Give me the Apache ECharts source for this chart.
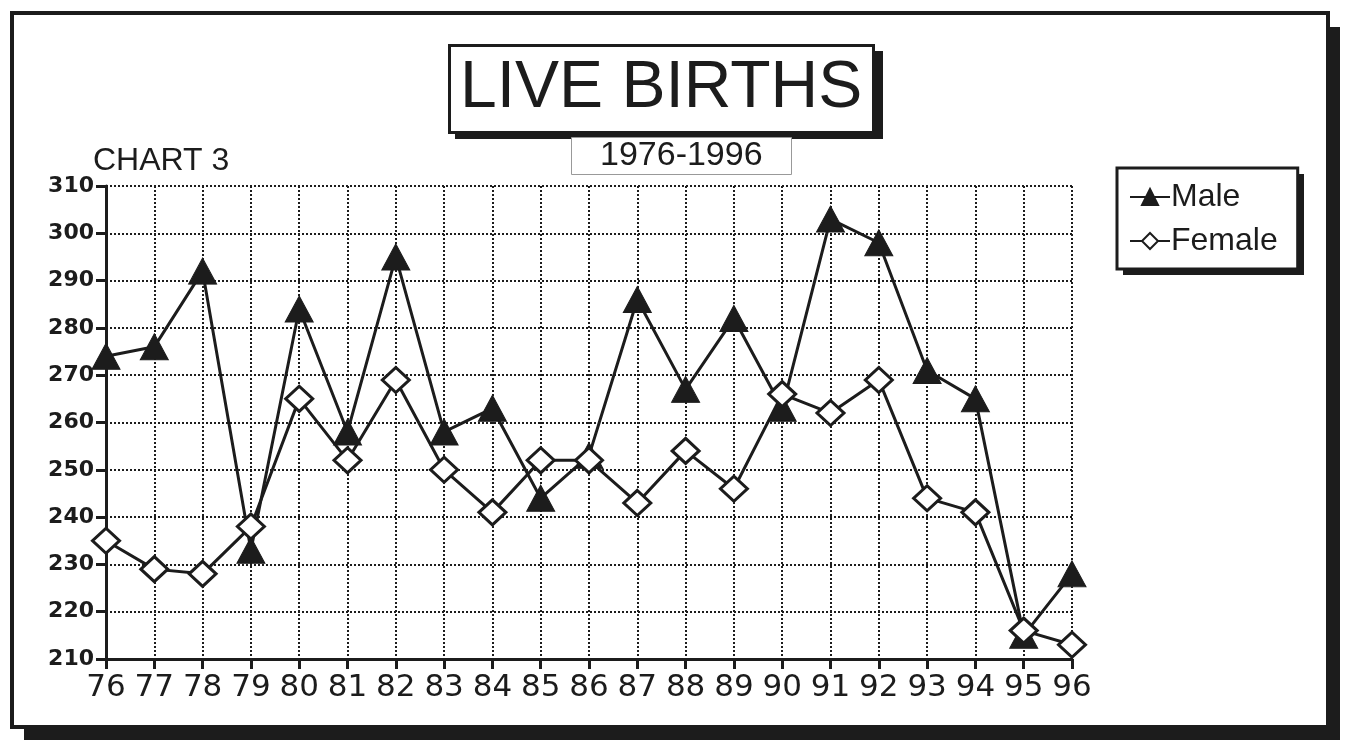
<!DOCTYPE html>
<html>
<head>
<meta charset="utf-8">
<title>Live Births</title>
<script src="https://cdn.jsdelivr.net/npm/echarts@6/dist/echarts.min.js"></script>
<style>
  html, body { margin: 0; padding: 0; background: #fff; }
  #chart { width: 1345px; height: 742px; }
</style>
</head>
<body>
<div id="chart"></div>
<script>
// years 1976-1996, shown as two digits on the x axis
var years = ["76", "77", "78", "79", "80", "81", "82", "83", "84", "85", "86",
  "87", "88", "89", "90", "91", "92", "93", "94", "95", "96"];
// births
var male = [274, 276, 292, 233, 284, 258, 295, 258, 263, 244, 253,
  286, 267, 282, 263, 303, 298, 271, 265, 215, 228];
var female = [235, 229, 228, 238, 265, 252, 269, 250, 241, 252, 252,
  243, 254, 246, 266, 262, 269, 244, 241, 216, 213];

var ink = "#1c1c1c";
var chart = echarts.init(document.getElementById("chart"));

var option = {
  backgroundColor: "#fff",
  animation: false,
  // frame round the whole chart and the hard shadows of the boxes
  graphic: [
    {
      type: "rect", z: -20,
      shape: { x: 24, y: 27, width: 1316, height: 713 },
      style: { fill: ink }
    },
    {
      type: "rect", z: -19,
      shape: { x: 12, y: 13, width: 1316, height: 714 },
      style: { fill: "#fff", stroke: ink, lineWidth: 4 }
    },
    // title shadow
    {
      type: "rect", z: -18,
      shape: { x: 455, y: 51, width: 428, height: 88 },
      style: { fill: ink }
    },
    // legend shadow
    {
      type: "rect", z: -18,
      shape: { x: 1123, y: 174, width: 181, height: 101 },
      style: { fill: ink }
    }
  ],
  title: [
    {
      text: "LIVE BIRTHS",
      left: 449, top: 45,
      padding: [8, 11],
      borderColor: ink, borderWidth: 3,
      backgroundColor: "#fff",
      textStyle: { fontFamily: "Liberation Sans", fontWeight: "normal",
        fontSize: 66, lineHeight: 72, color: ink }
    },
    {
      text: "1976-1996",
      left: 571, top: 137,
      padding: [2, 29],
      borderColor: "#999", borderWidth: 1,
      backgroundColor: "#fff",
      textStyle: { fontFamily: "Liberation Sans", fontWeight: "normal",
        fontSize: 34, lineHeight: 34, color: ink }
    },
    {
      text: "CHART 3",
      left: 88, top: 140,
      textStyle: { fontFamily: "Liberation Sans", fontWeight: "normal",
        fontSize: 32, color: ink }
    }
  ],
  legend: {
    orient: "vertical",
    left: 1117, top: 168,
    padding: [13, 20, 12, 12],
    itemWidth: 40, itemHeight: 20, itemGap: 12,
    borderColor: ink, borderWidth: 3,
    backgroundColor: "#fff",
    textStyle: { fontFamily: "Liberation Sans", fontSize: 32, color: ink, padding: [0, 0, 0, -4] },
    data: ["Male", "Female"]
  },
  grid: { left: 106, right: 273, top: 186, bottom: 83, containLabel: false },
  xAxis: {
    type: "category",
    data: years,
    boundaryGap: false,
    axisLine: { lineStyle: { color: ink, width: 3 } },
    axisTick: { length: 10, interval: 0, lineStyle: { color: ink, width: 3 } },
    axisLabel: { interval: 0, fontFamily: "DejaVu Sans", fontSize: 31, color: ink, margin: 13 },
    splitLine: { show: true, interval: 0, lineStyle: { color: ink, width: 2, type: "dotted" } }
  },
  yAxis: {
    type: "value",
    min: 210, max: 310, interval: 10,
    axisLine: { show: true, lineStyle: { color: ink, width: 3 } },
    axisTick: { show: true, length: 10, lineStyle: { color: ink, width: 3 } },
    axisLabel: { fontFamily: "DejaVu Sans", fontWeight: "bold", fontSize: 22, color: ink, margin: 12 },
    splitLine: { show: true, lineStyle: { color: ink, width: 2, type: "dotted" } }
  },
  series: [
    {
      name: "Male",
      type: "line",
      data: male,
      symbol: "triangle",
      symbolSize: [28, 26],
      lineStyle: { color: ink, width: 3 },
      itemStyle: { color: ink, borderColor: ink, borderWidth: 1 }
    },
    {
      name: "Female",
      type: "line",
      data: female,
      symbol: "diamond",
      symbolSize: [27, 25],
      lineStyle: { color: ink, width: 3 },
      itemStyle: { color: "#fff", borderColor: ink, borderWidth: 3 }
    }
  ]
};

chart.setOption(option);
</script>
</body>
</html>
